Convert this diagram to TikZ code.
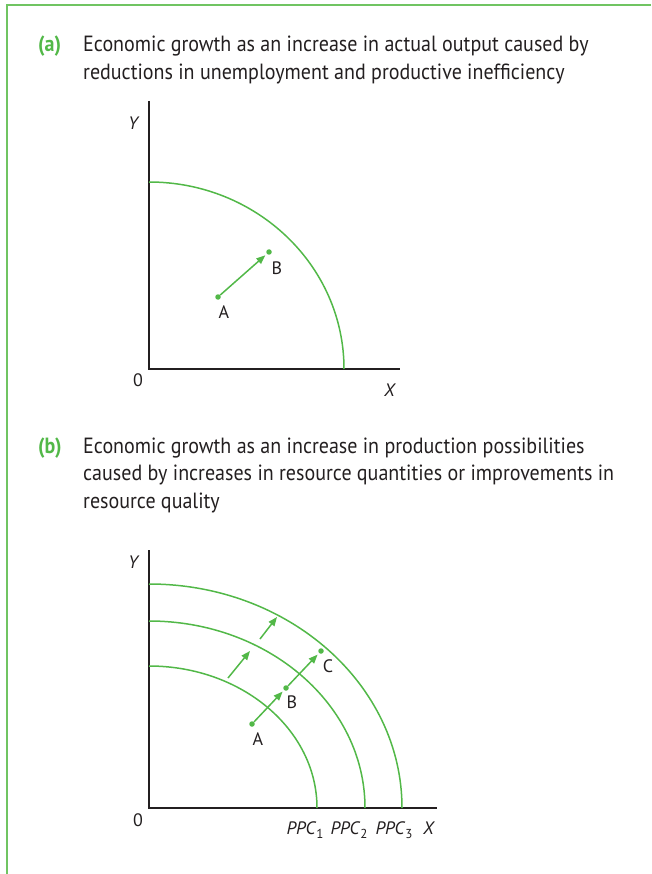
\documentclass[tikz,border=0pt]{standalone}
\usepackage{fontspec}
\setmainfont{PT Sans}
\newfontfamily\headfont[FakeStretch=0.91]{PT Sans}
\usetikzlibrary{arrows.meta}
\definecolor{ppcgreen}{RGB}{82,184,72}
\definecolor{framegreen}{RGB}{112,196,98}
\definecolor{inkgray}{RGB}{35,31,32}
\newcommand{\ppcsub}[1]{\textit{PPC}\raisebox{-3.5pt}{\fontsize{13}{13}\selectfont #1}}
\tikzset{
  axis/.style={line width=2.2pt, inkgray},
  ppc/.style={line width=1.5pt, ppcgreen},
  pt/.style={circle, fill=ppcgreen, inner sep=0pt, minimum size=5.5pt},
  move/.style={line width=1.5pt, ppcgreen, -{Triangle[length=9pt,width=7pt]}},
  lbl/.style={inkgray, font=\fontsize{18}{21}\selectfont, inner sep=0pt},
  head/.style={inkgray, font=\headfont\fontsize{22}{27.5}\selectfont, anchor=base west, inner sep=0pt, align=left},
  tag/.style={ppcgreen, font=\headfont\fontsize{22}{27.5}\selectfont\bfseries, anchor=base west, inner sep=0pt}
}

\begin{document}
\begin{tikzpicture}[x=1pt,y=-1pt]
\useasboundingbox (0,0) rectangle (651,874);
\draw[line width=1.3pt, framegreen] (7,874) -- (7,5) -- (651,5);

\node[tag] (taga) at (38,52) {(a)};
\node[head] (heada) at (83,79.5) {Economic growth as an increase in actual output caused by\\reductions in unemployment and productive inefficiency};

\draw[axis] (149,101) -- (149,369) -- (400,369);
\draw[ppc] (149,182) arc[start angle=-90, end angle=0, x radius=195, y radius=187];
\node[pt] (Aa) at (218,297) {};
\node[pt] (Ba) at (269,252) {};
\draw[move, shorten >=2pt] (Aa) -- (Ba);
\node[lbl] (labAa) at (224,312) {A};
\node[lbl] (labBa) at (277,268) {B};
\node[lbl] (Oa) at (138,380) {0};
\node[lbl] (Ya) at (134,123) {\textit{Y}};
\node[lbl] (Xa) at (390,390) {\textit{X}};

\node[tag] (tagb) at (38,453) {(b)};
\node[head] (headb) at (83,508) {Economic growth as an increase in production possibilities\\caused by increases in resource quantities or improvements in\\resource quality};

\draw[axis] (149,550) -- (149,808) -- (437,808);
\draw[ppc] (149,666) arc[start angle=-90, end angle=0, x radius=168, y radius=142];
\draw[ppc] (149,621) arc[start angle=-90, end angle=0, x radius=216, y radius=187];
\draw[ppc] (149,584) arc[start angle=-90, end angle=0, x radius=253, y radius=224];
\node[pt] (Ab) at (252,724) {};
\node[pt] (Bb) at (286,688) {};
\node[pt] (Cb) at (321,651) {};
\draw[move, shorten >=2pt] (Ab) -- (Bb);
\draw[move, shorten >=2pt] (Bb) -- (Cb);
\coordinate (s1) at (228,678);
\coordinate (e1) at (250,651);
\coordinate (s2) at (260,639);
\coordinate (e2) at (277,617);
\draw[move] (s1) -- (e1);
\draw[move] (s2) -- (e2);
\node[lbl] (labAb) at (258,739) {A};
\node[lbl] (labBb) at (292,702) {B};
\node[lbl] (labCb) at (328,666) {C};
\node[lbl] (Ob) at (138,820) {0};
\node[lbl] (Yb) at (134,562) {\textit{Y}};
\node[lbl] (ppc1) at (305,830) {\ppcsub{1}};
\node[lbl] (ppc2) at (349,830) {\ppcsub{2}};
\node[lbl] (ppc3) at (394,830) {\ppcsub{3}};
\node[lbl] (Xb) at (429,828) {\textit{X}};
\end{tikzpicture}
\end{document}
